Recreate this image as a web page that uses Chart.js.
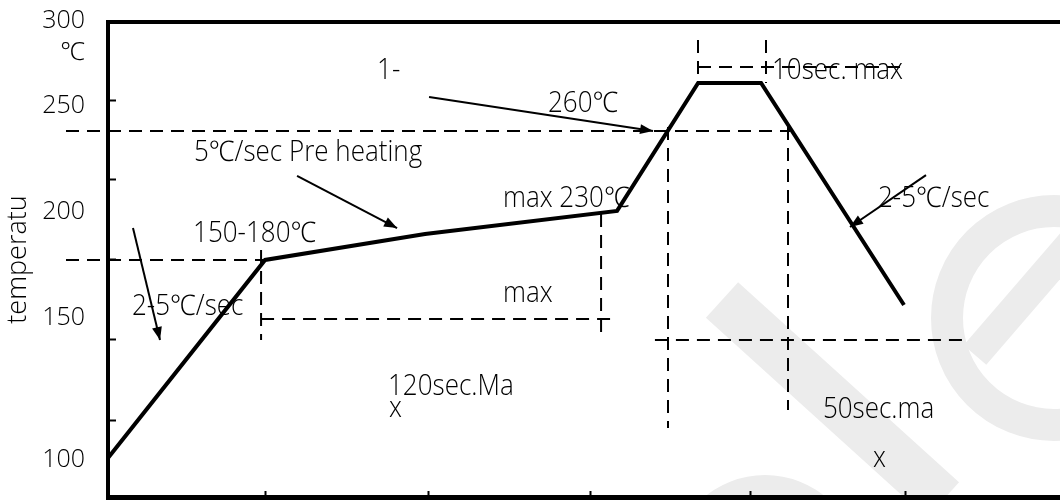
<!DOCTYPE html>
<html lang="en">
<head>
<meta charset="UTF-8">
<title>Reflow Profile</title>
<script src="https://cdn.jsdelivr.net/npm/chart.js"></script>
<style>
    body {
        margin: 0;
        padding: 0;
        background: #fff;
    }
    .chart-box {
        position: relative;
        width: 1060px;
        height: 500px;
    }
</style>
</head>
<body>
<div class="chart-box"><canvas id="profileChart"></canvas></div>
<script>
// solder profile (time in s, temperature as drawn on the sketch)
const profileTime = [0, 58.9, 118.9, 190.9, 221.3, 244.9, 298.5];
const profileTemp = [100.7, 190.8, 202.6, 213.1, 271.3, 271.3, 170.3];

// axis marks
const xTickValues = [59, 120, 181, 241, 299];
const yLabelValues = [299.5, 284.9, 260.8, 212.6, 164.4, 100];
const yLabels = ['300', '℃', '250', '200', '150', '100'];
const yMarkValues = [263.1, 227.2, 191.2, 154.4, 118.0];

// dashed guide lines: [x1, y1, x2, y2]
const guides = [
    [-15.75, 190.8, 58.9, 190.8],
    [-15.75, 249.4, 255.75, 249.4],
    [57.4, 195.3, 57.4, 154.4],
    [57.4, 163.9, 189, 163.9],
    [184.9, 211.7, 184.9, 154.4],
    [210, 251.25, 210, 114.4],
    [255, 251.25, 255, 122.6],
    [205.1, 154.4, 321.4, 154.4],
    [221.25, 290.8, 221.25, 271.3],
    [246.75, 290.8, 246.75, 271.3],
    [221.25, 278.5, 300, 278.5]
];

// arrows: [fromX, fromY, toX, toY]
const arrows = [
    [9.375, 205.3, 19.5, 154.4],
    [70.9, 229.0, 108.4, 205.3],
    [120.4, 264.9, 204.4, 249.4],
    [306.75, 229.4, 278.25, 205.8]
];

// notes: text, x, y (left / baseline)
const noteText = ['1-', '260℃', '5℃/sec Pre heating', '150-180℃', '2-5℃/sec', 'max 230℃',
    'max', '120sec.Ma', 'x', '10sec. max', '2-5℃/sec', '50sec.ma', 'x'];
const noteX = [100.9, 165, 32.25, 31.9, 9, 148.1, 148.1, 105, 105.4, 249, 288.75, 268.1, 286.9];
const noteY = [273.1, 258.1, 235.8, 199.0, 165.8, 214.9, 171.7, 129.4, 119.4, 273.1, 214.9, 118.9, 96.6];

const FONT = "'Open Sans', 'Noto Sans', sans-serif";

const datasets = [];
guides.forEach(g => {
    datasets.push({
        data: [{x: g[0], y: g[1]}, {x: g[2], y: g[3]}],
        borderColor: '#000', borderWidth: 2, borderDash: [13, 8],
        pointRadius: 0, clip: false
    });
});
arrows.forEach(a => {
    datasets.push({
        kind: 'arrow',
        data: [{x: a[0], y: a[1]}, {x: a[2], y: a[3]}],
        borderColor: '#000', borderWidth: 2,
        pointRadius: 0, clip: false
    });
});
datasets.push({
    label: 'profile',
    data: profileTime.map((t, i) => ({x: t, y: profileTemp[i]})),
    borderColor: '#000', borderWidth: 4, borderJoinStyle: 'miter',
    pointRadius: 0, clip: false
});

// faint logo behind the drawing
const watermark = {
    id: 'watermark',
    beforeDraw(chart) {
        const {ctx, scales: {x, y}} = chart;
        const px = v => x.getPixelForValue(v), py = v => y.getPixelForValue(v);
        ctx.save();
        ctx.strokeStyle = '#ececec';
        ctx.lineWidth = 48;
        ctx.beginPath();
        ctx.moveTo(px(230.25), py(172.6));
        ctx.lineTo(px(313.1), py(81.6));
        ctx.stroke();
        ctx.lineWidth = 32;
        ctx.beginPath();
        ctx.arc(px(354.75), py(164.4), 107, 0, Math.PI * 2);
        ctx.stroke();
        ctx.lineWidth = 30;
        ctx.beginPath();
        ctx.moveTo(px(325.1), py(147.6));
        ctx.lineTo(px(372), py(213.5));
        ctx.stroke();
        ctx.beginPath();
        ctx.arc(px(246.4), py(49.8), 80, 0, Math.PI * 2);
        ctx.stroke();
        ctx.restore();
    }
};

const arrowHeads = {
    id: 'arrowHeads',
    afterDatasetsDraw(chart) {
        const ctx = chart.ctx;
        chart.data.datasets.forEach((ds, i) => {
            if (ds.kind !== 'arrow') return;
            const pts = chart.getDatasetMeta(i).data;
            const a = pts[0], b = pts[1];
            const ang = Math.atan2(b.y - a.y, b.x - a.x);
            const len = 13, half = 5;
            ctx.save();
            ctx.translate(b.x, b.y);
            ctx.rotate(ang);
            ctx.fillStyle = '#000';
            ctx.beginPath();
            ctx.moveTo(0, 0);
            ctx.lineTo(-len, -half);
            ctx.lineTo(-len, half);
            ctx.closePath();
            ctx.fill();
            ctx.restore();
        });
    }
};

const notes = {
    id: 'notes',
    afterDatasetsDraw(chart) {
        const {ctx, scales: {x, y}} = chart;
        ctx.save();
        ctx.fillStyle = '#000';
        ctx.font = '300 26px ' + FONT;
        ctx.textBaseline = 'alphabetic';
        noteText.forEach((t, i) => {
            ctx.save();
            ctx.translate(x.getPixelForValue(noteX[i]), y.getPixelForValue(noteY[i]));
            ctx.scale(1, 1.1);
            ctx.fillText(t, 0, 0);
            ctx.restore();
        });
        ctx.restore();
    }
};

new Chart(document.getElementById('profileChart'), {
    type: 'line',
    data: { datasets },
    options: {
        responsive: true,
        maintainAspectRatio: false,
        animation: false,
        layout: { padding: 0 },
        plugins: {
            legend: { display: false },
            tooltip: { enabled: false }
        },
        scales: {
            x: {
                type: 'linear', position: 'bottom', min: 0, max: 357,
                afterBuildTicks: s => { s.ticks = xTickValues.map(v => ({value: v})); },
                afterFit: s => { s.height = 3; },
                ticks: { display: false },
                grid: { drawOnChartArea: false, tickLength: -6, tickWidth: 2, tickColor: '#000' },
                border: { color: '#000', width: 5 }
            },
            top: {
                type: 'linear', position: 'top', min: 0, max: 357,
                afterFit: s => { s.height = 22; },
                ticks: { display: false },
                grid: { display: false },
                border: { color: '#000', width: 4 }
            },
            y: {
                type: 'linear', min: 83, max: 299,
                afterBuildTicks: s => {
                    s.ticks = yLabelValues.concat(yMarkValues).sort((p, q) => q - p).map(v => ({value: v}));
                },
                afterFit: s => {
                    s.width = 108;
                    s.paddingTop = 0;
                    s.paddingBottom = 0;
                },
                ticks: {
                    autoSkip: false,
                    padding: 31,
                    color: '#000',
                    font: { family: FONT, size: 25, weight: '300' },
                    callback: v => {
                        const i = yLabelValues.indexOf(v);
                        return i < 0 ? '' : yLabels[i];
                    }
                },
                grid: {
                    drawOnChartArea: false,
                    tickLength: -8,
                    tickWidth: 2,
                    tickColor: c => (c.tick && yMarkValues.includes(c.tick.value)) ? '#000' : 'rgba(0,0,0,0)'
                },
                border: { color: '#000', width: 4 },
                title: {
                    display: true,
                    text: 'temperatu',
                    color: '#000',
                    font: { family: FONT, size: 27, weight: '300' },
                    padding: { top: 2, bottom: 0 }
                }
            }
        }
    },
    plugins: [watermark, arrowHeads, notes]
});
</script>
</body>
</html>
